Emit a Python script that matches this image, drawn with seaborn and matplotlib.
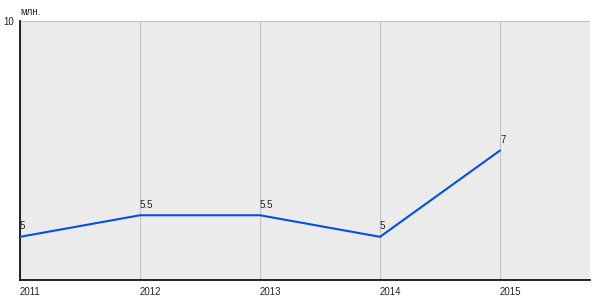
import matplotlib
matplotlib.use("Agg")
import matplotlib.pyplot as plt
import seaborn as sns
import pandas as pd

years = [2011, 2012, 2013, 2014, 2015]
values = [5, 5.5, 5.5, 5, 7]
value_labels = ["5", "5.5", "5.5", "5", "7"]
y_ticks = [10]
y_unit = "млн."

df = pd.DataFrame({"year": years, "value": values})

sns.set_style("white")
plt.rcParams["font.family"] = ["Liberation Sans", "DejaVu Sans"]

fig = plt.figure(figsize=(6, 3), dpi=100)
ax = fig.add_axes([20 / 600, 20 / 300, 570 / 600, 259 / 300])
ax.set_facecolor("#ebebeb")

sns.lineplot(data=df, x="year", y="value", ax=ax, color="#0050e6", linewidth=1.5, zorder=3)

ax.set_xlim(2011, 2015.75)
ax.set_ylim(4, 10)
ax.set_xticks(years)
ax.set_xticklabels([str(y) for y in years], fontsize=7, ha="left")
ax.set_yticks(y_ticks)
ax.set_yticklabels([str(t) for t in y_ticks], fontsize=7)
ax.tick_params(axis="x", length=0, pad=5)
ax.tick_params(axis="y", length=3, pad=1, width=1, color="black")
for x in years:
    ax.axvline(x, color="#c4c4c4", linewidth=0.8, zorder=1)
ax.axhline(10, color="#c4c4c4", linewidth=1.5, zorder=1)
ax.set_xlabel("")
ax.set_ylabel("")

for s in ["top", "right"]:
    ax.spines[s].set_visible(False)
for s in ["left", "bottom"]:
    ax.spines[s].set_color("black")
    ax.spines[s].set_linewidth(1.2)

for x, y, lab in zip(years, values, value_labels):
    ax.annotate(lab, (x, y), xytext=(0, 4), textcoords="offset points",
                ha="left", va="bottom", fontsize=7, color="#222222")

ax.text(0, 1.015, y_unit, transform=ax.transAxes, ha="left", va="bottom", fontsize=7)

fig.savefig("out.png", dpi=100)
